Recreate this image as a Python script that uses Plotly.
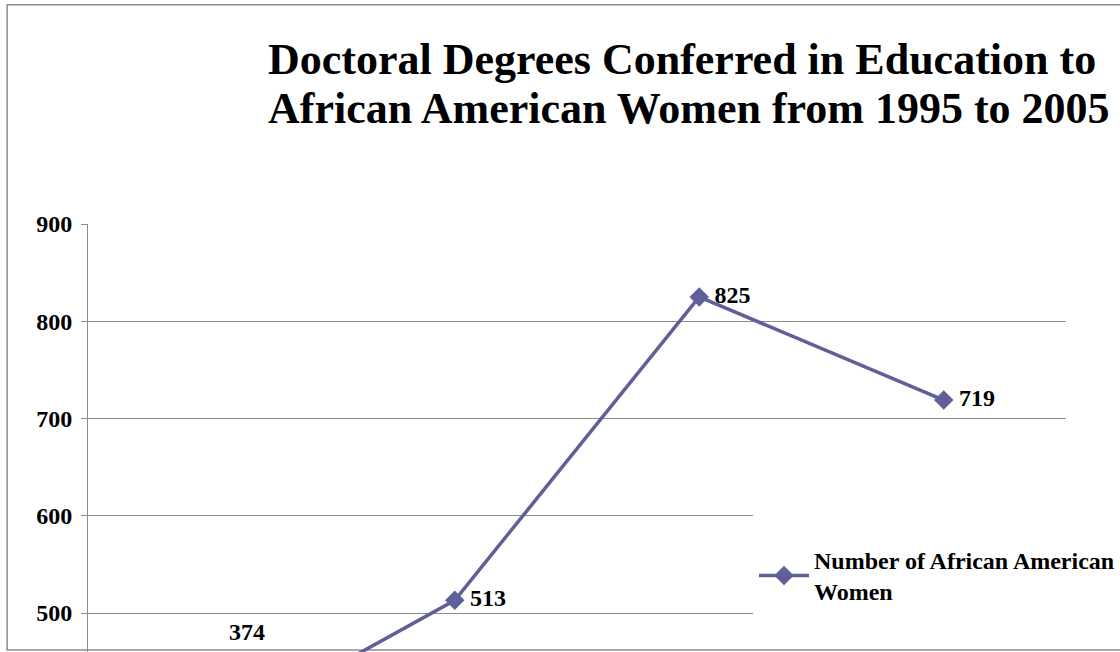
import plotly.graph_objects as go

# Data
years = ["1995", "2000", "2004", "2005"]
women = [374, 513, 825, 719]
series_name = "Number of African American<br>Women"
title_lines = ["Doctoral Degrees Conferred in Education to",
               "African American Women from 1995 to 2005"]
y_ticks = [500, 600, 700, 800, 900]

LINE = "#5F5F99"
GRID = "#8C8C8C"
FONT = "Liberation Serif"

# first point lies below the visible area; its label is drawn separately
point_labels = [""] + [f"\u2009<b>{v}</b>" for v in women[1:]]

fig = go.Figure()
fig.add_trace(go.Scatter(
    x=years, y=women, mode="lines+markers+text",
    name=f"<b>{series_name}</b>",
    line=dict(color=LINE, width=3.5),
    marker=dict(symbol="diamond", size=15, color=LINE),
    text=point_labels,
    textposition="middle right",
    textfont=dict(family=FONT, size=24, color="black"),
    cliponaxis=True,
))

# label of the first point
fig.add_annotation(
    x=(247 - 88) / 980, y=(652 - 632) / 428, xref="paper", yref="paper",
    xanchor="center", yanchor="middle",
    text=f"<b>{women[0]}</b>", showarrow=False,
    font=dict(family=FONT, size=24, color="black"),
)

# title (two lines, tighter spacing than plotly's default)
for line, top in zip(title_lines, [33, 82]):
    fig.add_annotation(
        x=(266 - 88) / 980, y=(652 - top) / 428, xref="paper", yref="paper",
        xanchor="left", yanchor="top", align="left", showarrow=False,
        text=f"<b>{line}</b>",
        font=dict(family=FONT, size=44, color="black"),
    )

# outer chart border
fig.add_shape(type="rect", xref="paper", yref="paper",
              x0=-0.0827, x1=1.2, y0=0.0047, y1=1.512,
              line=dict(color="#8C8C8C", width=1.5), layer="below")
# legend backdrop hiding gridlines
fig.add_shape(type="rect", xref="paper", yref="paper",
              x0=0.68, x1=1.2, y0=0.02, y1=0.33,
              line=dict(width=0), fillcolor="white", layer="above")

fig.update_layout(
    width=1120, height=652,
    margin=dict(l=88, r=52, t=224, b=0),
    paper_bgcolor="white", plot_bgcolor="white",
    showlegend=True,
    legend=dict(x=0.681, xanchor="left", y=0.178, yanchor="middle",
                bgcolor="rgba(0,0,0,0)",
                font=dict(family=FONT, size=24, color="black"),
                itemwidth=50),
    xaxis=dict(type="category", showgrid=False, showline=False,
               showticklabels=False, ticks="", range=[-0.5, 3.5]),
    yaxis=dict(range=[459.9, 900], tickvals=y_ticks,
               ticktext=[f"<b>{v}</b>" for v in y_ticks],
               showgrid=True, gridcolor=GRID, gridwidth=1,
               showline=True, linecolor=GRID, linewidth=1,
               ticks="outside", ticklen=6, tickcolor=GRID,
               ticklabelstandoff=4,
               tickfont=dict(family=FONT, size=24, color="black"),
               zeroline=False),
)

fig.write_html("out.html")
